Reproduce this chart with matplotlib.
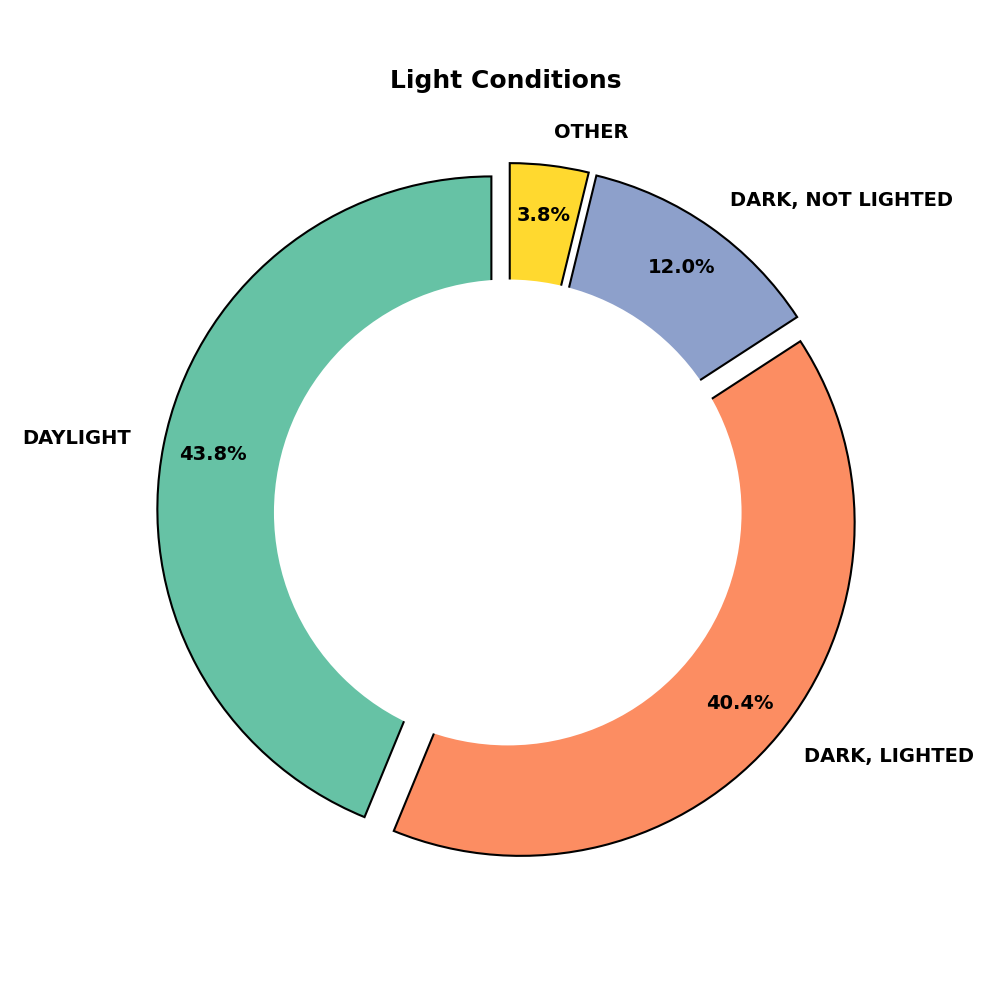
import matplotlib.pyplot as plt

categories = ["DAYLIGHT", "DARK, LIGHTED", "DARK, NOT LIGHTED", "OTHER"]
shares = [43.8, 40.4, 12.0, 3.8]
colors = ["#66c2a5", "#fc8d62", "#8da0cb", "#ffd92f"]
explode = [0.05, 0.05, 0.05, 0.05]

fig = plt.figure(figsize=(10, 10), dpi=100)
ax = fig.add_axes([0.1225, 0.1095, 0.767, 0.762])

wedges, texts, autotexts = ax.pie(
    shares,
    labels=categories,
    colors=colors,
    explode=explode,
    startangle=90,
    autopct="%1.1f%%",
    pctdistance=0.85,
    labeldistance=1.1,
    wedgeprops=dict(edgecolor="black", linewidth=1.5),
    textprops=dict(fontsize=14, fontweight="bold"),
)

# trou central
centre = plt.Circle((0, 0), 0.70, fc="white")
ax.add_artist(centre)

ax.set_title("Light Conditions", fontsize=18, fontweight="bold", pad=29)
ax.axis("equal")
plt.savefig("out.png", dpi=100)
